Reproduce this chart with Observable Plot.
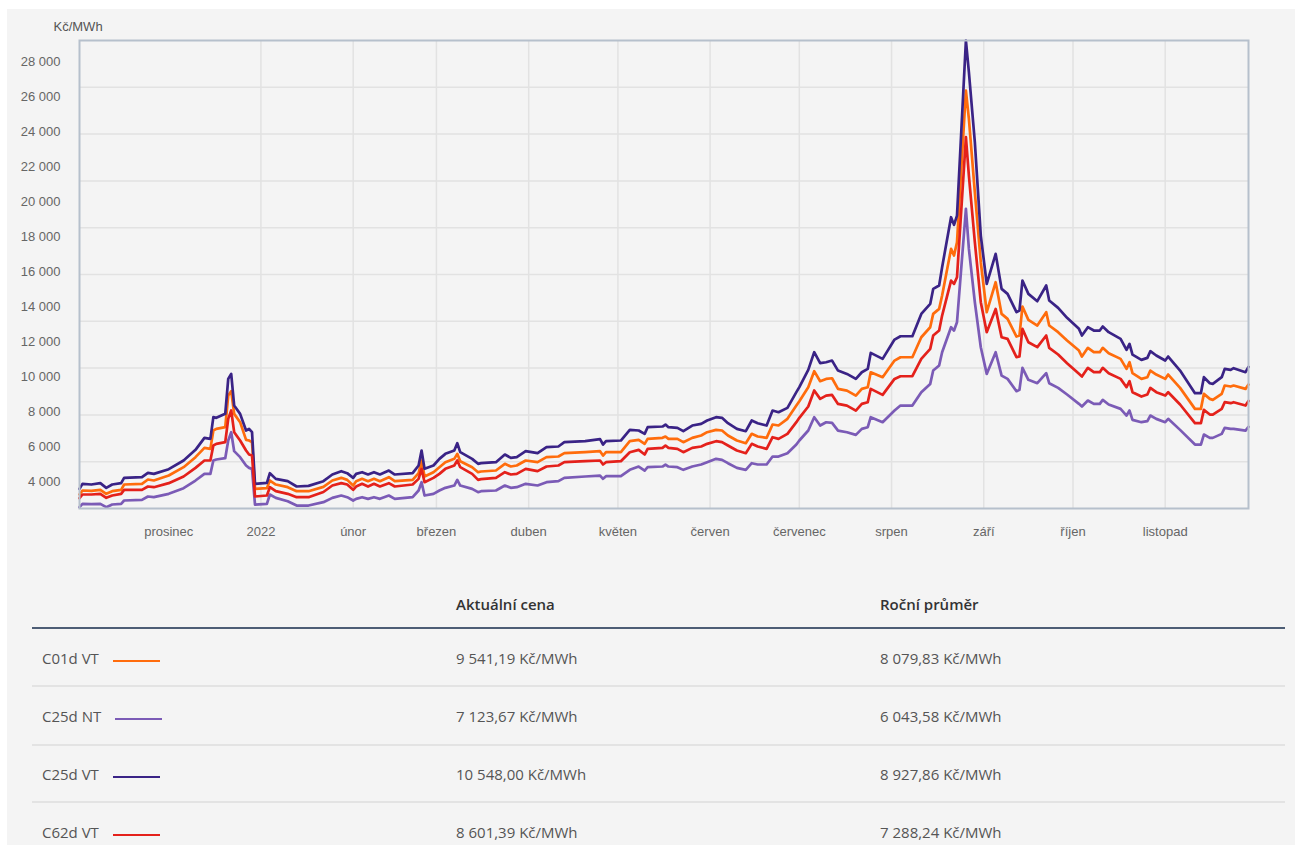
<!DOCTYPE html>
<html><head><meta charset="utf-8">
<script src="https://cdn.jsdelivr.net/npm/d3@7"></script>
<script src="https://cdn.jsdelivr.net/npm/@observablehq/plot@0.6"></script>
<style>
html,body{margin:0;padding:0;background:#fff;}
#panel{position:absolute;left:7px;top:9px;width:1288px;height:836px;background:#f4f4f4;overflow:hidden;}
#chart{position:absolute;left:0;top:0;}
#table{position:absolute;left:0;top:0;width:1288px;height:836px;font-family:"Open Sans",sans-serif;font-size:15px;color:#555;}
.hd{position:absolute;height:20px;line-height:20px;font-weight:600;color:#333;white-space:nowrap;}
.cell{position:absolute;height:20px;line-height:20px;white-space:nowrap;}
.sw{display:inline-block;width:47px;height:2px;margin-left:14px;vertical-align:middle;position:relative;top:1px;}
.rule{position:absolute;left:25px;width:1253px;}
</style></head>
<body><div id="panel"><div id="chart"></div><div id="table"></div></div>
<script>
const seriesNames = ["C01d VT", "C25d NT", "C25d VT", "C62d VT"];
const seriesColors = ["#ff6c0c", "#7b5bb6", "#3a2386", "#e4211b"];
const currentPrice = [9541.19, 7123.67, 10548.00, 8601.39];
const annualAverage = [8079.83, 6043.58, 8927.86, 7288.24];

const dates = ["2021-11-01","2021-11-02","2021-11-05","2021-11-08","2021-11-10","2021-11-12","2021-11-15","2021-11-16","2021-11-22","2021-11-24","2021-11-26","2021-12-01","2021-12-06","2021-12-10","2021-12-13","2021-12-15","2021-12-16","2021-12-17","2021-12-20","2021-12-21","2021-12-22","2021-12-23","2021-12-25","2021-12-27","2021-12-28","2021-12-29","2021-12-30","2022-01-03","2022-01-04","2022-01-06","2022-01-10","2022-01-13","2022-01-17","2022-01-22","2022-01-25","2022-01-28","2022-01-30","2022-02-01","2022-02-02","2022-02-04","2022-02-06","2022-02-08","2022-02-10","2022-02-13","2022-02-15","2022-02-21","2022-02-23","2022-02-24","2022-02-25","2022-02-28","2022-03-02","2022-03-04","2022-03-07","2022-03-08","2022-03-09","2022-03-13","2022-03-15","2022-03-16","2022-03-21","2022-03-24","2022-03-26","2022-03-28","2022-03-31","2022-04-04","2022-04-07","2022-04-11","2022-04-13","2022-04-20","2022-04-25","2022-04-26","2022-04-27","2022-05-02","2022-05-05","2022-05-08","2022-05-10","2022-05-11","2022-05-16","2022-05-17","2022-05-18","2022-05-21","2022-05-23","2022-05-26","2022-05-29","2022-05-31","2022-06-03","2022-06-05","2022-06-07","2022-06-10","2022-06-13","2022-06-15","2022-06-17","2022-06-20","2022-06-22","2022-06-24","2022-06-27","2022-06-30","2022-07-01","2022-07-04","2022-07-06","2022-07-08","2022-07-10","2022-07-12","2022-07-14","2022-07-17","2022-07-20","2022-07-22","2022-07-24","2022-07-25","2022-07-29","2022-08-02","2022-08-04","2022-08-08","2022-08-11","2022-08-14","2022-08-15","2022-08-17","2022-08-18","2022-08-21","2022-08-22","2022-08-23","2022-08-26","2022-08-27","2022-08-29","2022-08-31","2022-09-02","2022-09-05","2022-09-07","2022-09-09","2022-09-12","2022-09-13","2022-09-14","2022-09-16","2022-09-19","2022-09-22","2022-09-23","2022-09-26","2022-09-29","2022-10-03","2022-10-04","2022-10-06","2022-10-08","2022-10-10","2022-10-11","2022-10-13","2022-10-17","2022-10-19","2022-10-20","2022-10-21","2022-10-24","2022-10-26","2022-10-27","2022-10-29","2022-11-01","2022-11-02","2022-11-06","2022-11-11","2022-11-13","2022-11-14","2022-11-16","2022-11-17","2022-11-20","2022-11-21","2022-11-23","2022-11-24","2022-11-28","2022-11-29"];

const c25dVT = [3580,3866,3827,3904,3637,3827,3904,4208,4246,4494,4437,4704,5199,5809,6494,6437,7676,7637,7866,9866,10152,8342,7866,6914,7009,6818,3866,3923,4475,4151,4018,3713,3751,4018,4399,4590,4475,4209,4437,4532,4399,4532,4399,4628,4399,4475,4913,5771,4723,4913,5294,5580,5771,6190,5675,5294,5009,5047,5104,5542,5352,5390,5733,5618,5961,5999,6247,6304,6418,6113,6303,6342,6951,6913,6723,7104,7142,7256,7104,7066,6875,7199,7294,7485,7675,7637,7332,7008,6875,7485,7332,7199,8056,7961,8208,9104,9390,10380,11390,10761,10815,10910,10339,10148,9862,10243,10434,11349,11006,12111,12301,12301,13577,14149,15006,15197,16244,19102,18664,19197,29198,27389,23388,18054,15292,17006,15006,14720,13675,13770,15484,14723,14303,15199,14342,13922,13351,12722,12341,12818,12627,12627,12856,12532,12151,11522,11865,11255,10951,11065,11446,11198,10913,11141,10341,9046,9046,9960,9617,9579,9960,10436,10379,10475,10246,10548.00];

const c01dVT = [3256,3485,3466,3523,3294,3447,3523,3827,3866,4113,4056,4342,4818,5390,5923,5866,6914,7009,7104,8914,9161,7866,7390,6380,6342,6247,3580,3618,4056,3827,3675,3447,3447,3694,4056,4209,4094,3770,4018,4151,4018,4151,4018,4247,4018,4094,4475,5199,4285,4532,4818,5104,5294,5580,5161,4818,4532,4570,4628,5009,4856,4913,5199,5104,5390,5428,5618,5675,5732,5484,5675,5675,6303,6380,6151,6437,6494,6570,6437,6437,6246,6494,6628,6818,6951,6913,6628,6342,6189,6723,6570,6494,7256,7199,7580,8342,8590,9390,10304,9732,9862,9901,9291,9196,8910,9291,9386,10243,9958,10910,11101,11101,12244,12815,13577,13863,14625,17292,16911,17673,26341,24722,20530,16530,13672,15387,13577,13292,12284,12341,13999,13237,12913,13675,12913,12532,12056,11484,11141,11637,11389,11389,11637,11332,11008,10436,10817,10189,9865,9960,10341,10112,9865,10112,9350,8150,8150,9008,8722,8665,9008,9484,9427,9484,9293,9541.19];

const c62dVT = [3046,3256,3256,3294,3065,3199,3294,3523,3523,3713,3675,3904,4285,4780,5199,5199,6056,6152,6247,7580,8057,6818,6342,5771,5542,5485,3142,3199,3675,3447,3294,3104,3104,3400,3770,3904,3828,3523,3713,3866,3713,3866,3713,3904,3713,3828,4151,4723,3961,4209,4437,4723,4913,5199,4818,4437,4094,4132,4209,4532,4399,4437,4723,4590,4856,4913,5104,5161,5199,4970,5103,5160,5675,5808,5541,5865,5922,6056,5922,5865,5675,5922,5999,6151,6303,6246,6056,5770,5618,6151,5999,5865,6532,6437,6723,7389,7637,8285,9199,8723,8910,8948,8434,8339,8053,8434,8529,9291,8948,9862,10015,10015,11006,11577,12339,12625,13482,15482,15292,15673,23673,21483,17673,14244,12530,13863,12244,12149,11103,11141,12722,11960,11675,12341,11637,11255,10760,10151,9998,10494,10246,10246,10494,10189,9865,9389,9731,9103,8855,8969,9350,9103,8912,9103,8398,7331,7331,8093,7826,7826,8150,8531,8474,8531,8341,8601.39];

const c25dNT = [2532,2723,2704,2723,2532,2684,2723,2913,2951,3142,3104,3294,3618,4056,4437,4437,5199,5256,5333,6342,6818,5733,5390,4913,4780,4723,2684,2723,3256,3065,2875,2627,2627,2818,3066,3199,3104,2913,3008,3104,3008,3104,3008,3199,3008,3104,3485,3961,3199,3294,3485,3637,3770,4094,3770,3580,3390,3447,3485,3770,3637,3675,3866,3770,3961,4018,4209,4285,4341,4151,4303,4303,4665,4856,4627,4818,4856,4970,4856,4818,4665,4856,4970,5103,5294,5237,5046,4780,4665,5046,4970,4970,5427,5427,5618,6113,6342,6913,7675,7199,7386,7348,6910,6815,6662,7005,7101,7672,7386,8053,8339,8339,9101,9577,10339,10625,11387,12815,12625,13101,19578,17292,14244,11672,10148,11387,10053,9862,9160,9236,10494,9808,9617,10189,9617,9350,8969,8436,8284,8627,8436,8436,8665,8398,8150,7769,8055,7522,7389,7446,7769,7579,7389,7579,6950,6112,6112,6683,6493,6493,6722,7064,7007,7007,6912,7123.67];

const yTicks = [4000,6000,8000,10000,12000,14000,16000,18000,20000,22000,24000,26000,28000];
const xTickDates = ["2021-12-01","2022-01-01","2022-02-01","2022-03-01","2022-04-01","2022-05-01","2022-06-01","2022-07-01","2022-08-01","2022-09-01","2022-10-01","2022-11-01"];
const xTickLabels = ["prosinec","2022","únor","březen","duben","květen","červen","červenec","srpen","září","říjen","listopad"];
const gridMonths = ["2022-01-01","2022-02-01","2022-03-01","2022-04-01","2022-05-01","2022-06-01","2022-07-01","2022-08-01","2022-09-01","2022-10-01","2022-11-01"];
const yDomain = [2457, 29200];
const unitLabel = "Kč/MWh";

const valuesByName = {"C01d VT": c01dVT, "C25d NT": c25dNT, "C25d VT": c25dVT, "C62d VT": c62dVT};
const parsed = dates.map(s => new Date(s + "T00:00:00Z"));
const long = seriesNames.flatMap(name => parsed.map((d, i) => ({date: d, value: valuesByName[name][i], series: name})));

const cz = d3.formatLocale({decimal: ",", thousands: " ", grouping: [3], currency: ["", ""]});
const fmtInt = cz.format(",");
const fmtDec = cz.format(",.2f");
const tickMap = new Map(xTickDates.map((s, i) => [+new Date(s + "T00:00:00Z"), xTickLabels[i]]));

const chart = Plot.plot({
  width: 1288, height: 560,
  marginLeft: 72, marginRight: 47, marginTop: 31, marginBottom: 61,
  style: {background: "transparent", fontFamily: "Arial, 'Liberation Sans', sans-serif", fontSize: "13px", color: "#666"},
  x: {type: "utc", domain: [parsed[0], parsed[parsed.length - 1]]},
  y: {domain: yDomain},
  color: {domain: seriesNames, range: seriesColors},
  marks: [
    Plot.ruleY(d3.range(1, 10).map(i => yDomain[0] + i * (yDomain[1] - yDomain[0]) / 10), {stroke: "#e2e2e2", strokeWidth: 1.5}),
    Plot.ruleX(gridMonths.map(s => new Date(s + "T00:00:00Z")), {stroke: "#e2e2e2", strokeWidth: 1.5}),
    Plot.axisX({ticks: xTickDates.map(s => new Date(s + "T00:00:00Z")), tickFormat: d => tickMap.get(+d), tickSize: 0, tickPadding: 18, label: null, fill: "#666"}),
    Plot.axisY({ticks: yTicks, tickFormat: d => fmtInt(d), tickSize: 0, tickPadding: 19, label: null, fill: "#666"}),
    Plot.line(long, {x: "date", y: "value", z: "series", stroke: "series", strokeWidth: 2.7}),
    Plot.frame({stroke: "#b6c0cc", strokeWidth: 2}),
    Plot.text([unitLabel], {text: d => d, frameAnchor: "top-left", dx: -26, dy: -19, textAnchor: "start", fill: "#555"})
  ]
});
document.getElementById("chart").appendChild(chart);

// table
const tbl = document.getElementById("table");
function add(cls, txt, left, top, extra) {
  const el = document.createElement("div");
  el.className = cls;
  if (txt !== null) el.textContent = txt;
  el.style.left = left + "px";
  el.style.top = top + "px";
  if (extra) Object.assign(el.style, extra);
  tbl.appendChild(el);
  return el;
}
add("hd", "Aktuální cena", 449, 585);
add("hd", "Roční průměr", 873, 585);
add("rule", null, 25, 618, {height: "2px", background: "#4d5d75"});
const rowCenters = [649, 707, 765, 823];
const sepTops = [676, 735, 792];
sepTops.forEach(t => add("rule", null, 25, t, {height: "2px", background: "#e3e3e3"}));
seriesNames.forEach((name, i) => {
  const c = add("cell", name, 35, rowCenters[i] - 10);
  const sw = document.createElement("span");
  sw.className = "sw";
  sw.style.background = seriesColors[i];
  c.appendChild(sw);
  add("cell", fmtDec(currentPrice[i]) + " Kč/MWh", 449, rowCenters[i] - 10);
  add("cell", fmtDec(annualAverage[i]) + " Kč/MWh", 873, rowCenters[i] - 10);
});
</script>
</body></html>
